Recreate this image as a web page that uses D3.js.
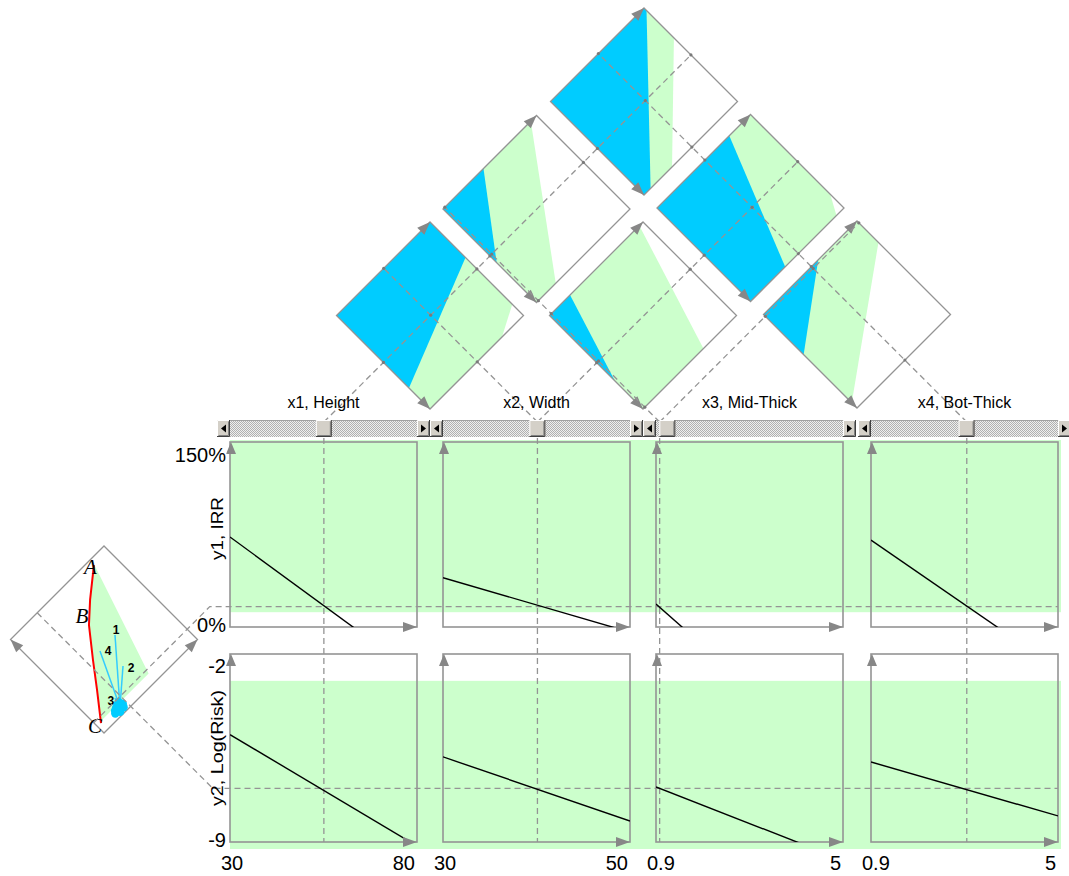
<!DOCTYPE html>
<html>
<head>
<meta charset="utf-8">
<script src="https://cdn.jsdelivr.net/npm/d3@7"></script>
<style>
  body { margin: 0; background: #fff; }
  text { font-family: "Liberation Sans", Arial, sans-serif; fill: #000; }
</style>
</head>
<body>
<svg id="chart" width="1069" height="876"></svg>
<script>
// ---- design parameters (sliders / columns) ----
const paramNames = ["x1, Height", "x2, Width", "x3, Mid-Thick", "x4, Bot-Thick"];
const paramMin = [30, 30, 0.9, 0.9];
const paramMax = [80, 50, 5, 5];
const paramTickLabels = [["30", "80"], ["30", "50"], ["0.9", "5"], ["0.9", "5"]];
const paramCurrent = [55.1, 40.1, 0.98, 3.0];

// ---- responses (rows) ----
const responseNames = ["y1, IRR", "y2, Log(Risk)"];
const responseMin = [0, -9];
const responseMax = [150, -2];
const responseTickLabels = [["0%", "150%"], ["-9", "-2"]];
const responseCurrent = [16.5, -7.0];
const responseLimit = [12, -3];          // y1 must stay above, y2 below

// response value with one parameter at its min / max, the others held at current
const y1AtMin = [73, 40, 18.6, 70.5];
const y1AtMax = [-38, -4.2, -115, -34];
const y2AtMin = [-5.0, -5.83, -6.95, -6.02];
const y2AtMax = [-9.15, -8.22, -9.67, -8.03];

// ---- pairwise slices (x_i, x_j) ----
const pairs = [[0, 1], [0, 2], [0, 3], [1, 2], [1, 3], [2, 3]];
const blueRegions = [
  [[30, 30], [68.75, 30], [49, 50], [30, 50]],
  [[30, 0.9], [58.7, 0.9], [30, 2.675]],
  [[30, 0.9], [80, 0.9], [80, 1.19], [31.35, 5], [30, 5]],
  [[30, 0.9], [44, 0.9], [30, 1.80]],
  [[30, 0.9], [50, 0.9], [50, 2.42], [30, 4.07]],
  [[0.9, 0.9], [2.66, 0.9], [0.9, 3.30]]
];
const whiteRegions = [
  [[74, 50], [80, 50], [80, 45.4]],
  [[30, 4.75], [30, 5], [80, 5], [80, 1.745]],
  [[46, 5], [80, 5], [80, 2.13]],
  [[30, 4.84], [30, 5], [50, 5], [50, 3.55]],
  [[47.06, 5], [50, 5], [50, 4.67]],
  [[1.84, 5], [5, 5], [5, 0.9], [4.77, 0.9]]
];

// ---- response space (y1, y2) ----
const frontCurve = [[142.8, -3.09], [117.9, -4.54], [98.7, -5.52], [67.4, -6.68], [40.1, -7.65], [10.4, -8.74]];
const frontLabels = ["A", "B", "C"];
const frontLabelAt = [[142.8, -3.09], [105, -5.2], [10.4, -8.74]];
const feasibleEdge = [[141.2, -3.09], [12, -5.1], [12, -8.5]];
const nominalCluster = [[8, -7.43], [6, -7.5], [10, -7.3], [7, -7.65], [10.5, -7.6], [12, -7.45], [5, -7.3],
                        [8.5, -7.2], [9, -7.75], [4, -7.6], [13, -7.3], [6.5, -7.85]];
const sensitivityLabels = ["1", "2", "3", "4"];
const sensitivityEnds = [[69.8, -4.92], [38.5, -5.78], [19.3, -7.28], [69, -6.08]];

// ---- layout ----
const svg = d3.select("#chart");
const W = 187;
const colLeft = [230, 443, 656, 871];
const rowTop = [442, 654], rowBottom = [627, 842];
const base = 422;                    // origin line of the 45° projections
const grey = "#949494", arrowGrey = "#878787";
const green = "#ccffcc", blue = "#00ccff";
const dash = "6,4";

const xScales = paramMin.map((m, i) => d3.scaleLinear().domain([m, paramMax[i]]).range([colLeft[i], colLeft[i] + W]));
const yScales = responseMin.map((m, r) => d3.scaleLinear().domain([m, responseMax[r]]).range([rowBottom[r], rowTop[r]]));

const defs = svg.append("defs");
const pat = defs.append("pattern").attr("id", "dither").attr("width", 2).attr("height", 2).attr("patternUnits", "userSpaceOnUse");
pat.append("rect").attr("width", 2).attr("height", 2).attr("fill", "#eeeeee");
pat.append("rect").attr("width", 1).attr("height", 1).attr("fill", "#b0b0b0");
pat.append("rect").attr("x", 1).attr("y", 1).attr("width", 1).attr("height", 1).attr("fill", "#b0b0b0");

function arrow(g, tip, angle, len = 13, half = 5) {
  const a = angle, c = Math.cos(a), s = Math.sin(a);
  const bx = tip[0] - c * len, by = tip[1] - s * len;
  const pts = [tip, [bx - s * half, by + c * half], [bx + s * half, by - c * half]];
  g.append("path").attr("d", "M" + pts.join("L") + "Z").attr("fill", arrowGrey);
}

// ---- acceptance bands ----
const bandLeft = colLeft[0], bandRight = colLeft[3] + W + 3;
svg.append("rect").attr("x", bandLeft).attr("width", bandRight - bandLeft)
  .attr("y", yScales[0](responseMax[0]) - 2)
  .attr("height", yScales[0](responseLimit[0]) - yScales[0](responseMax[0]) + 2)
  .attr("fill", green);
svg.append("rect").attr("x", bandLeft).attr("width", bandRight - bandLeft)
  .attr("y", yScales[1](responseLimit[1]))
  .attr("height", yScales[1](responseMin[1]) + 7 - yScales[1](responseLimit[1]))
  .attr("fill", green);

// ---- pairwise diamonds ----
function pairPoint(i, j, vi, vj) {
  const Xi = xScales[i](vi), Xj = xScales[j](vj);
  return [(Xi + Xj) / 2, base - (Xj - Xi) / 2];
}
const poly = pts => "M" + pts.map(p => p.join(",")).join("L") + "Z";
const gD = svg.append("g");
pairs.forEach(([i, j], k) => {
  const corners = [[paramMin[i], paramMin[j]], [paramMax[i], paramMin[j]], [paramMax[i], paramMax[j]], [paramMin[i], paramMax[j]]]
    .map(v => pairPoint(i, j, v[0], v[1]));
  gD.append("path").attr("d", poly(corners)).attr("fill", green);
  gD.append("path").attr("d", poly(blueRegions[k].map(v => pairPoint(i, j, v[0], v[1])))).attr("fill", blue);
  gD.append("path").attr("d", poly(whiteRegions[k].map(v => pairPoint(i, j, v[0], v[1])))).attr("fill", "#fff");
  gD.append("path").attr("d", poly(corners)).attr("fill", "none").attr("stroke", grey).attr("stroke-width", 1.3);
  // axes of x_i (lower-left edge) and x_j (upper-left edge)
  arrow(gD, corners[1], Math.PI / 4);
  arrow(gD, corners[3], -Math.PI / 4);
});

// ---- projection lines from the sliders ----
const gP = svg.append("g").attr("fill", "none").attr("stroke", grey).attr("stroke-width", 1.3).attr("stroke-dasharray", dash);
const rightEnd = xScales[3].range()[1];
paramCurrent.forEach((v, k) => {
  const X = xScales[k](v);
  if (k < 3) gP.append("path").attr("d", `M${X},${base}L${(X + rightEnd) / 2},${base - (rightEnd - X) / 2}`);
  if (k > 0) gP.append("path").attr("d", `M${X},${base}L${(colLeft[0] + X) / 2},${base - (X - colLeft[0]) / 2}`);
});
// markers where the current values cross the slices
pairs.forEach(([i, j]) => {
  const ci = paramCurrent[i], cj = paramCurrent[j];
  [[ci, paramMin[j]], [ci, paramMax[j]], [paramMin[i], cj], [paramMax[i], cj], [ci, cj]].forEach(v => {
    const p = pairPoint(i, j, v[0], v[1]);
    svg.append("circle").attr("cx", p[0]).attr("cy", p[1]).attr("r", 1.6).attr("fill", "#7a7a7a");
  });
});

// ---- response-space diamond ----
const hR = W / 2, Bx = 104, By = 733;
const sp = d3.scaleLinear().domain([responseMin[0], responseMax[0]]).range([0, hR]);
const sq = d3.scaleLinear().domain([responseMin[1], responseMax[1]]).range([0, hR]);
const rp = (y1, y2) => [Bx - sp(y1) + sq(y2), By - sp(y1) - sq(y2)];
const gR = svg.append("g");
const rCorners = [rp(responseMin[0], responseMin[1]), rp(responseMax[0], responseMin[1]), rp(responseMax[0], responseMax[1]), rp(responseMin[0], responseMax[1])];
gR.append("path").attr("d", poly(feasibleEdge.map(d => rp(d[0], d[1])).concat(frontCurve.slice().reverse().map(d => rp(d[0], d[1])))))
  .attr("fill", green);
gR.append("path").attr("d", poly(rCorners)).attr("fill", "none").attr("stroke", grey).attr("stroke-width", 1.3);
arrow(gR, rCorners[1], -3 * Math.PI / 4);
arrow(gR, rCorners[3], -Math.PI / 4);

// current-response lines: through the diamond, then across each row
const gC = svg.append("g").attr("fill", "none").attr("stroke", grey).attr("stroke-width", 1.3).attr("stroke-dasharray", dash);
{
  const s1 = rp(responseCurrent[0], responseMin[1]);
  const yy1 = yScales[0](responseCurrent[0]);
  gC.append("path").attr("d", `M${s1[0]},${s1[1]}L${s1[0] + (s1[1] - yy1)},${yy1}L${colLeft[3] + W},${yy1}`);
  const top2 = rp(responseMax[0], responseCurrent[1]);
  const e2 = rp(responseMin[0], responseCurrent[1]);
  const yy2 = yScales[1](responseCurrent[1]);
  gC.append("path").attr("d", `M${top2[0]},${top2[1]}L${e2[0] + (yy2 - e2[1])},${yy2}L${colLeft[3] + W},${yy2}`);
}

gR.append("path").attr("d", d3.line().x(d => rp(d[0], d[1])[0]).y(d => rp(d[0], d[1])[1])(frontCurve))
  .attr("fill", "none").attr("stroke", "#ff0000").attr("stroke-width", 2);
const hub = rp(nominalCluster[0][0], nominalCluster[0][1]);
sensitivityEnds.forEach((d, k) => {
  const e = rp(d[0], d[1]);
  gR.append("line").attr("x1", hub[0]).attr("y1", hub[1]).attr("x2", e[0]).attr("y2", e[1])
    .attr("stroke", "#33ccff").attr("stroke-width", 1.5);
});
nominalCluster.forEach(d => {
  const p = rp(d[0], d[1]);
  gR.append("circle").attr("cx", p[0]).attr("cy", p[1]).attr("r", 4.2).attr("fill", blue);
});
const sensOffset = [[1, -1], [8, 6], [-4, 7], [8, 4]];
sensitivityEnds.forEach((d, k) => {
  const e = rp(d[0], d[1]);
  gR.append("text").attr("x", e[0] + sensOffset[k][0]).attr("y", e[1] + sensOffset[k][1])
    .attr("text-anchor", "middle").attr("font-size", 12).attr("font-weight", "bold").text(sensitivityLabels[k]);
});
const frontOffset = [[3, 9], [-1, 6], [1, 10]];
frontLabelAt.forEach((d, k) => {
  const p = rp(d[0], d[1]);
  gR.append("text").attr("x", p[0] + frontOffset[k][0]).attr("y", p[1] + frontOffset[k][1])
    .attr("text-anchor", "end").style("font-family", "'Liberation Serif', serif")
    .attr("font-style", "italic").attr("font-size", 21).text(frontLabels[k]);
});

// ---- response panels ----
const atMin = [y1AtMin, y2AtMin], atMax = [y1AtMax, y2AtMax];
const gPan = svg.append("g");
paramCurrent.forEach((v, c) => {
  const X = xScales[c](v);
  gPan.append("line").attr("x1", X).attr("x2", X).attr("y1", 438).attr("y2", rowBottom[1])
    .attr("stroke", grey).attr("stroke-width", 1.3).attr("stroke-dasharray", dash);
});
[0, 1].forEach(r => {
  colLeft.forEach((L, c) => {
    const top = rowTop[r], bot = rowBottom[r];
    const id = `clip-${r}-${c}`;
    defs.append("clipPath").attr("id", id).append("rect").attr("x", L).attr("y", top).attr("width", W).attr("height", bot - top);
    gPan.append("rect").attr("x", L).attr("y", top).attr("width", W).attr("height", bot - top)
      .attr("fill", "none").attr("stroke", grey).attr("stroke-width", 1.6);
    const line = d3.line().x(d => xScales[c](d[0])).y(d => yScales[r](d[1]));
    gPan.append("path").attr("clip-path", `url(#${id})`)
      .attr("d", line([[paramMin[c], atMin[r][c]], [paramMax[c], atMax[r][c]]]))
      .attr("fill", "none").attr("stroke", "#000").attr("stroke-width", 1.4);
    arrow(gPan, [L + 1, top], -Math.PI / 2, 12, 5);
    arrow(gPan, [L + W, bot], 0, 14, 5);
  });
});

// ---- sliders ----
const sTop = 420, sH = 17, btnW = 13, thumbW = 16;
function bevel(g, x, y, w, h) {
  g.append("rect").attr("x", x).attr("y", y).attr("width", w).attr("height", h).attr("fill", "#d4d0c8");
  g.append("path").attr("d", `M${x + 0.5},${y + h - 0.5}V${y + 0.5}H${x + w - 0.5}`).attr("stroke", "#fff").attr("fill", "none");
  g.append("path").attr("d", `M${x + 1.5},${y + h - 1.5}H${x + w - 1.5}V${y + 1.5}`).attr("stroke", "#808080").attr("fill", "none");
  g.append("path").attr("d", `M${x},${y + h - 0.5}H${x + w - 0.5}V${y}`).attr("stroke", "#404040").attr("fill", "none");
}
paramCurrent.forEach((v, k) => {
  const L = colLeft[k], g = svg.append("g");
  g.append("rect").attr("x", L).attr("y", sTop).attr("width", W).attr("height", sH).attr("fill", "url(#dither)");
  g.append("line").attr("x1", L).attr("x2", L + W).attr("y1", sTop + 0.5).attr("y2", sTop + 0.5).attr("stroke", "#a0a0a0");
  bevel(g, L - btnW, sTop, btnW, sH);
  bevel(g, L + W, sTop, btnW, sH);
  const cy = sTop + sH / 2;
  g.append("path").attr("d", `M${L - btnW + 4},${cy}L${L - 4},${cy - 4}L${L - 4},${cy + 4}Z`).attr("fill", "#000");
  g.append("path").attr("d", `M${L + W + btnW - 4},${cy}L${L + W + 4},${cy - 4}L${L + W + 4},${cy + 4}Z`).attr("fill", "#000");
  const frac = (xScales[k](v) - L) / W;
  bevel(g, L + frac * (W - thumbW), sTop, thumbW, sH);
});

// ---- text ----
paramNames.forEach((n, k) => {
  svg.append("text").attr("x", colLeft[k] + W / 2).attr("y", 408).attr("text-anchor", "middle").attr("font-size", 16).text(n);
  svg.append("text").attr("x", colLeft[k] - 9).attr("y", 870).attr("font-size", 20).text(paramTickLabels[k][0]);
  svg.append("text").attr("x", colLeft[k] + W - 2).attr("y", 870).attr("text-anchor", "end").attr("font-size", 20).text(paramTickLabels[k][1]);
});
const yTickBase = [[632, 462], [847, 673]];
const titleLen = [63, 116];
responseNames.forEach((n, r) => {
  responseTickLabels[r].forEach((t, m) => {
    const tx = svg.append("text").attr("x", 226).attr("y", yTickBase[r][m]).attr("text-anchor", "end").attr("font-size", 20).text(t);
    const bb = tx.node().getBBox();
    svg.insert("rect", () => tx.node()).attr("x", bb.x).attr("y", bb.y + 3).attr("width", bb.width).attr("height", bb.height - 5).attr("fill", "#fff");
  });
  const cy = (rowTop[r] + rowBottom[r]) / 2 - (r === 0 ? 6 : 0);
  svg.append("text").attr("transform", `translate(223,${cy}) rotate(-90)`).attr("text-anchor", "middle")
    .attr("font-size", 16).attr("textLength", titleLen[r]).attr("lengthAdjust", "spacingAndGlyphs").text(n);
});
</script>
</body>
</html>
